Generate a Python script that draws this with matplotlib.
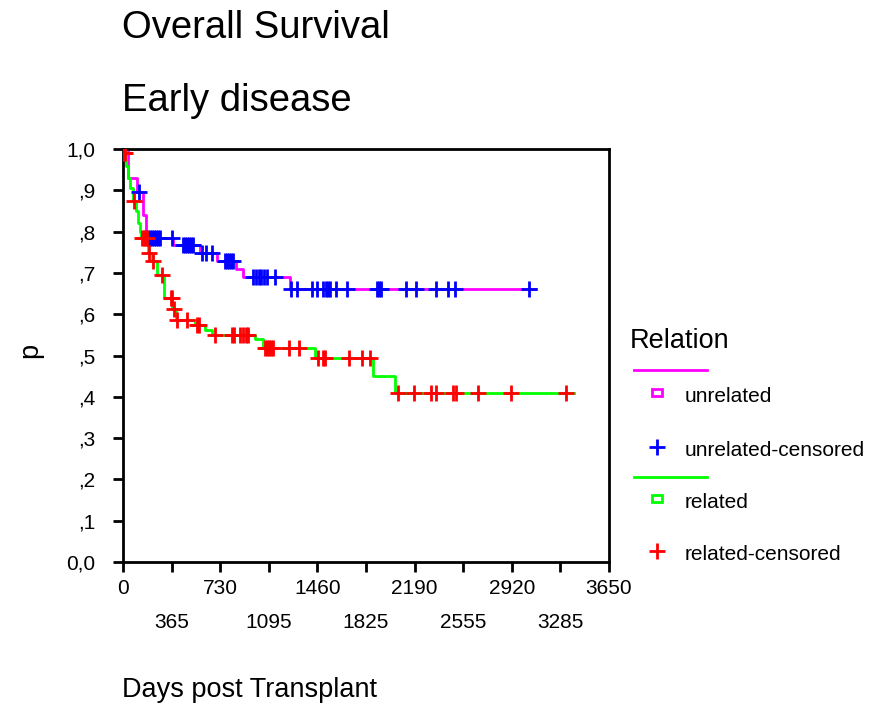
import numpy as np
import matplotlib
matplotlib.use("Agg")
import matplotlib.pyplot as plt
from matplotlib.patches import Rectangle

plt.rcParams['font.family'] = ['Liberation Sans', 'DejaVu Sans']

# Kaplan-Meier step points (days, survival)
unrel_t = [0, 40, 105, 150, 172, 375, 577, 705, 847, 900, 1252]
unrel_s = [1.0, 0.93, 0.895, 0.84, 0.785, 0.767, 0.748, 0.729, 0.71, 0.69, 0.662]
unrel_end = 3100
unrel_cens = [120, 190, 200, 215, 230, 245, 260, 275, 370, 450, 465, 480, 495, 510,
              525, 590, 627, 665, 765, 780, 795, 810, 825, 980, 1000, 1020, 1040,
              1060, 1080, 1145, 1259, 1304, 1416, 1454, 1499, 1521, 1536, 1552,
              1596, 1679, 1911, 1926, 1941, 2129, 2204, 2353, 2443, 2496, 3050]

rel_t = [0, 3, 20, 35, 55, 75, 95, 110, 125, 135, 185, 215, 255, 310, 370, 395,
         540, 615, 670, 990, 1050, 1440, 1876, 2046]
rel_s = [1.0, 0.99, 0.96, 0.93, 0.905, 0.875, 0.85, 0.82, 0.80, 0.785, 0.747, 0.729,
         0.695, 0.64, 0.613, 0.586, 0.575, 0.562, 0.55, 0.54, 0.519, 0.495, 0.45, 0.408]
rel_end = 3388
rel_cens = [5, 10, 15, 80, 145, 155, 165, 180, 195, 227, 290, 357, 365, 380, 402, 477,
            555, 570, 690, 815, 830, 877, 899, 922, 939, 1064, 1079, 1094, 1109, 1124,
            1244, 1319, 1461, 1499, 1514, 1694, 1797, 1857, 2063, 2189, 2314, 2351,
            2481, 2501, 2663, 2913, 3326]

x_ticks = list(range(0, 3651, 365))
y_ticks = [round(v * 0.1, 1) for v in range(11)]
y_labels = ['0,0', ',1', ',2', ',3', ',4', ',5', ',6', ',7', ',8', ',9', '1,0']


def km_curve(ax, t, s, end, cens, line_col, cens_col):
    t = np.array(t, float)
    s = np.array(s, float)
    ax.step(np.append(t, end), np.append(s, s[-1]), where='post',
            color=line_col, lw=2, zorder=2)
    c = np.array(cens, float)
    cy = s[np.searchsorted(t, c, side='right') - 1]
    ax.plot(c, cy, ls='none', marker='+', ms=11, mew=2, color=cens_col, zorder=3)


fig = plt.figure(figsize=(8.71, 7.04), dpi=100)
ax = fig.add_axes([123 / 871, 142 / 704, 486 / 871, 413 / 704])

km_curve(ax, unrel_t, unrel_s, unrel_end, unrel_cens, '#ff00ff', '#0000ff')
km_curve(ax, rel_t, rel_s, rel_end, rel_cens, '#00ff00', '#ff0000')

ax.set_xlim(0, 3650)
ax.set_ylim(0, 1.0)
ax.set_xticks(x_ticks[::2])
ax.set_xticklabels([str(v) for v in x_ticks[::2]])
ax.set_xticks(x_ticks[1::2], minor=True)
ax.set_xticklabels([str(v) for v in x_ticks[1::2]], minor=True)
ax.set_yticks(y_ticks)
ax.set_yticklabels(y_labels)
ax.tick_params(axis='x', which='major', length=7, width=2, pad=5, labelsize=15)
ax.tick_params(axis='x', which='minor', length=7, width=2, pad=30, labelsize=15)
ax.tick_params(axis='y', length=7, width=2, pad=13, labelsize=15)
for sp in ax.spines.values():
    sp.set_linewidth(2)

fig.text(122 / 871, 1 - 28 / 704, 'Overall Survival', fontsize=27.5, va='center', ha='left')
fig.text(122 / 871, 1 - 101 / 704, 'Early disease', fontsize=27.5, va='center', ha='left')
fig.text(122 / 871, 1 - 690 / 704, 'Days post Transplant', fontsize=19.5, va='center', ha='left')
fig.text(30 / 871, 1 - 350 / 704, 'p', fontsize=19.5, va='center', ha='center', rotation=90)

# hand-built legend in pixel space
lg = fig.add_axes([0, 0, 1, 1], facecolor='none')
lg.set_xlim(0, 871)
lg.set_ylim(704, 0)
lg.axis('off')
lg.text(630, 341, 'Relation', fontsize=19.5, va='center', ha='left')
lg.plot([634, 707], [370, 370], color='#ff00ff', lw=2)
lg.add_patch(Rectangle((652, 388.5), 10, 7, fill=False, ec='#ff00ff', lw=2))
lg.text(685, 397, 'unrelated', fontsize=15, va='center', ha='left')
lg.plot([657], [446.5], marker='+', ms=11, mew=2, color='#0000ff')
lg.text(685, 450, 'unrelated-censored', fontsize=15, va='center', ha='left')
lg.plot([634, 707], [477, 477], color='#00ff00', lw=2)
lg.add_patch(Rectangle((652, 494.5), 10, 7, fill=False, ec='#00ff00', lw=2))
lg.text(685, 502, 'related', fontsize=15, va='center', ha='left')
lg.plot([657], [550.5], marker='+', ms=11, mew=2, color='#ff0000')
lg.text(685, 554, 'related-censored', fontsize=15, va='center', ha='left')

fig.savefig('out.png', dpi=100)
